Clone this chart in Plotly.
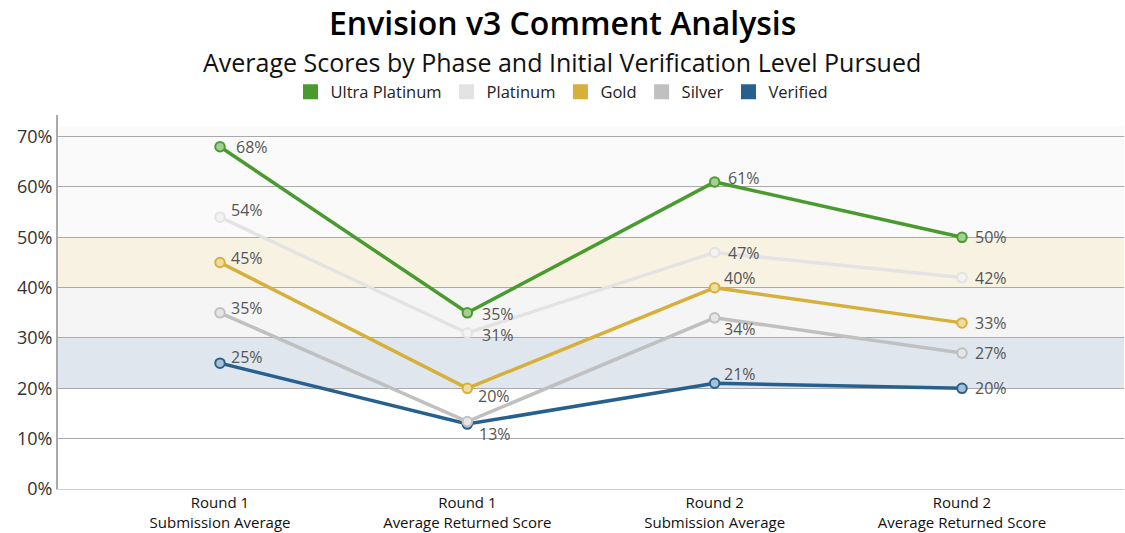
import plotly.graph_objects as go

categories = ["Round 1<br>Submission Average", "Round 1<br>Average Returned Score",
              "Round 2<br>Submission Average", "Round 2<br>Average Returned Score"]
series_names = ["Ultra Platinum", "Platinum", "Gold", "Silver", "Verified"]
ultra_platinum = [68, 35, 61, 50]
platinum = [54, 31, 47, 42]
gold = [45, 20, 40, 33]
silver = [35, 13.4, 34, 27]
verified = [25, 12.9, 21, 20]
y_ticks = [0, 10, 20, 30, 40, 50, 60, 70]
y_tick_labels = ["0%", "10%", "20%", "30%", "40%", "50%", "60%", "70%"]

values = [ultra_platinum, platinum, gold, silver, verified]
colors = ["#4a9b2f", "#e3e3e3", "#d6b03b", "#c0c0c0", "#27608e"]
fills = ["#a6cf97", "#f3f3f3", "#f0dc9e", "#e6e6e6", "#a9c1d6"]
# label offsets (px right, px up) relative to each marker; None hides an overlapping label
label_offsets = [
    [(14, 0), (13, -1), (11, 4), (11, 0)],
    [(9, 7), (13, -2), (11, -1), (11, 0)],
    [(9, 4), (9, -8), (7, 10), (11, 0)],
    [(9, 5), (10, -12), (7, -11), (11, 0)],
    [(9, 6), None, (7, 9), (11, 0)],
]

W, H = 1125, 533
L, R, T, B = 58, 1, 115, 42
PW, PH = W - L - R, H - T - B


def px_x(x):
    return (x - L) / PW


def px_y(y):
    return (H - B - y) / PH


fig = go.Figure()
for i in reversed(range(len(series_names))):
    fig.add_trace(go.Scatter(
        x=list(range(len(categories))), y=values[i], mode="lines+markers",
        line=dict(color=colors[i], width=3.5),
        marker=dict(size=9.5, color=fills[i], line=dict(color=colors[i], width=2)),
        showlegend=False, cliponaxis=False, hoverinfo="skip",
    ))
for i, name in enumerate(series_names):
    fig.add_trace(go.Scatter(
        x=[None], y=[None], mode="markers", name=name,
        marker=dict(symbol="square", size=15, color=colors[i]),
    ))

annotations = [
    dict(text="Envision v3 Comment Analysis", xref="paper", yref="paper",
         x=px_x(562), y=px_y(22), showarrow=False,
         font=dict(family="Open Sans", size=32, color="#000000", weight=600),
         xanchor="center", yanchor="middle"),
    dict(text="Average Scores by Phase and Initial Verification Level Pursued", xref="paper",
         yref="paper", x=px_x(562), y=px_y(62), showarrow=False,
         font=dict(size=25, color="#111111"), xanchor="center", yanchor="middle"),
]
for i in range(len(series_names)):
    for j, v in enumerate(values[i]):
        off = label_offsets[i][j]
        if off is None:
            continue
        annotations.append(dict(
            x=j, y=v, xref="x", yref="y", text=f"{v:.0f}%", showarrow=False,
            xanchor="left", yanchor="middle", xshift=off[0], yshift=off[1],
            font=dict(size=16, color="#555555"),
        ))

bands = [(20, 30, "#dfe6ee"), (30, 40, "#f5f5f5"), (40, 50, "#f7f2e2"), (50, 72, "#fafafa")]
shapes = [dict(type="rect", xref="paper", yref="y", x0=0, x1=1, y0=b0, y1=b1,
               fillcolor=c, line=dict(width=0), layer="below") for b0, b1, c in bands]

fig.update_layout(
    width=W, height=H,
    margin=dict(l=L, r=R, t=T, b=B),
    paper_bgcolor="white", plot_bgcolor="white",
    font=dict(family="Open Sans", color="#222222"),
    shapes=shapes,
    annotations=annotations,
    showlegend=True,
    legend=dict(orientation="h", x=px_x(562), xanchor="center", y=px_y(92), yanchor="middle",
                font=dict(size=16.5, color="#222222"), traceorder="normal", itemwidth=30,
                bgcolor="rgba(0,0,0,0)"),
    xaxis=dict(tickmode="array", tickvals=list(range(len(categories))), ticktext=categories,
               range=[-0.655, 3.655], showgrid=False, zeroline=False,
               showline=True, linecolor="#cccccc", linewidth=1,
               tickfont=dict(size=15, color="#111111"), ticks=""),
    yaxis=dict(range=[0, 74.3], tickmode="array", tickvals=y_ticks, ticktext=y_tick_labels,
               showgrid=True, gridcolor="#aaaaaa", gridwidth=1, zeroline=False, showline=True,
               linecolor="#aaaaaa", linewidth=2, tickfont=dict(size=18, color="#333333"),
               ticks=""),
)
fig.write_html("out.html", post_script="document.body.style.margin='0';",
               config={"displayModeBar": False})
